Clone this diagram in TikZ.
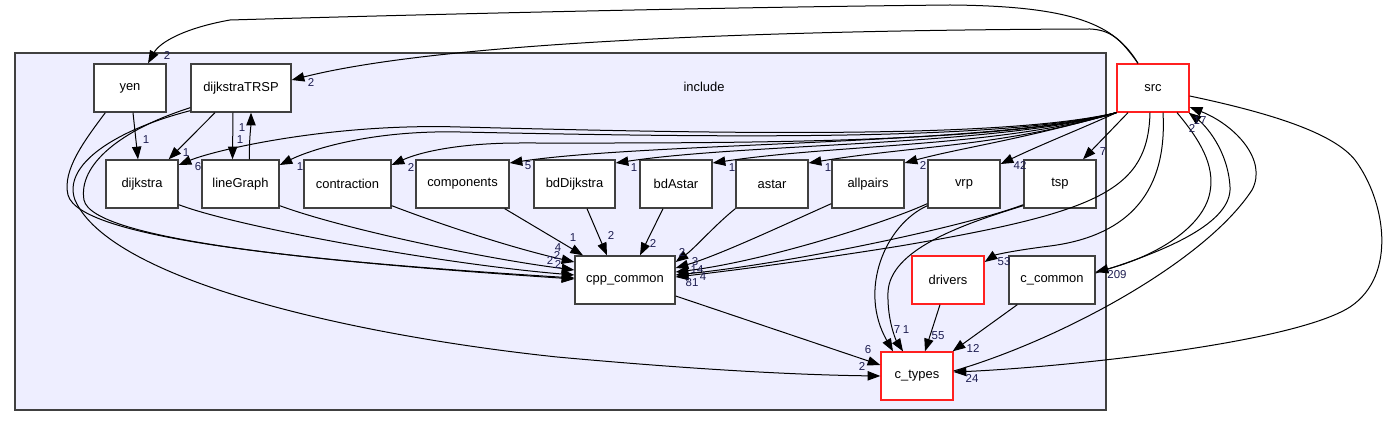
\documentclass[tikz,border=0pt]{standalone}
\usepackage{fontspec}
\setmainfont{Liberation Sans}
\usetikzlibrary{arrows.meta,calc}
\definecolor{clfill}{HTML}{EEEEFF}
\definecolor{boxgray}{HTML}{404040}
\definecolor{boxred}{HTML}{FF2020}
\definecolor{lblcol}{HTML}{1C1C50}
\newcommand{\nodefnt}{\fontsize{9.7}{11}\selectfont}
\newcommand{\lblfnt}{\fontsize{8.6}{10}\selectfont}
\tikzset{
  dirbox/.style={draw=boxgray, fill=white, line width=1pt, minimum height=36pt, inner sep=0pt, font=\nodefnt},
  redbox/.style={dirbox, draw=boxred},
  clusterbox/.style={draw=boxgray, fill=clfill, line width=0.9pt, inner sep=0pt},
  dep/.style={draw=black, line width=0.75pt, -{Triangle[length=9.5pt,width=7pt]}},
  lbl/.style={font=\lblfnt, text=lblcol, inner sep=0pt},
}
\begin{document}
\begin{tikzpicture}[x=0.75pt,y=-0.75pt]
\useasboundingbox (0,0) rectangle (1390,427);
% cluster
\node[clusterbox, minimum width=818.25pt, minimum height=267.75pt] (incl) at (560.5,231.5) {};
\node[font=\nodefnt] (incltxt) at (704,87) {include};
% nodes
\node[dirbox, minimum width=54pt] (yen) at (130,88) {yen};
\node[dirbox, minimum width=75pt] (dTRSP) at (241,88) {dijkstraTRSP};
\node[dirbox, minimum width=54pt] (dijkstra) at (142,184) {dijkstra};
\node[dirbox, minimum width=57.75pt] (lineGraph) at (240.5,184) {lineGraph};
\node[dirbox, minimum width=65.25pt] (contraction) at (347.5,184) {contraction};
\node[dirbox, minimum width=69.75pt] (components) at (462.5,184) {components};
\node[dirbox, minimum width=60.75pt] (bdDijkstra) at (574.5,184) {bdDijkstra};
\node[dirbox, minimum width=54pt] (bdAstar) at (676,184) {bdAstar};
\node[dirbox, minimum width=54pt] (astar) at (772,184) {astar};
\node[dirbox, minimum width=54pt] (allpairs) at (868,184) {allpairs};
\node[dirbox, minimum width=54pt] (vrp) at (964,184) {vrp};
\node[dirbox, minimum width=54pt] (tsp) at (1060,184) {tsp};
\node[redbox, minimum width=54pt] (src) at (1153,88) {src};
\node[dirbox, minimum width=75pt] (cpp) at (625,280) {cpp\_common};
\node[redbox, minimum width=54pt] (drivers) at (948,280) {drivers};
\node[dirbox, minimum width=64.5pt] (ccommon) at (1052,280) {c\_common};
\node[redbox, minimum width=54pt] (ctypes) at (917,376) {c\_types};

% edges from src, top
\draw[dep] ($(src.north)+(-15,0)$) .. controls (1115,25) and (1075,6) .. (950,5) .. controls (650,8) and (300,18) .. (230,20) .. controls (185,28) and (160,42) .. ($(yen.north)+(18,0)$) node[lbl] (l1) at (167,56) {2};
\draw[dep] ($(src.north)+(-15,0)$) .. controls (1120,38) and (1110,30) .. (1090,29) .. controls (800,30) and (450,40) .. ($(dTRSP.east)+(0,-8)$) node[lbl] (l2) at (311,83) {2};
% src fan
\draw[dep] (src.south west) .. controls (1000,140) and (700,133) .. (460,127) .. controls (330,123) and (215,150) .. ($(dijkstra.east)+(0,-19)$) node[lbl] (l3) at (198,167) {6};
\draw[dep] (src.south west) .. controls (1000,142) and (700,137) .. (460,132) .. controls (370,130) and (310,150) .. ($(lineGraph.east)+(0,-19)$) node[lbl] (l4) at (300,167) {1};
\draw[dep] (src.south west) .. controls (1000,145) and (700,143) .. (520,143) .. controls (460,143) and (420,152) .. ($(contraction.east)+(0,-19)$) node[lbl] (l5) at (411,168) {2};
\draw[dep] (src.south west) .. controls (1000,145) and (650,142) .. ($(components.east)+(0,-21)$) node[lbl] (l6) at (528,166) {5};
\draw[dep] (src.south west) .. controls (1000,146) and (750,143) .. ($(bdDijkstra.east)+(0,-21)$) node[lbl] (l7) at (634,168) {1};
\draw[dep] (src.south west) .. controls (1000,147) and (840,144) .. ($(bdAstar.east)+(0,-21)$) node[lbl] (l8) at (732,168) {1};
\draw[dep] (src.south west) .. controls (1000,147) and (920,145) .. ($(astar.east)+(0,-21)$) node[lbl] (l9) at (828,168) {1};
\draw[dep] (src.south west) .. controls (1020,140) and (960,148) .. ($(allpairs.east)+(0,-21)$) node[lbl] (l10) at (923,166) {2};
\draw[dep] (src.south west) .. controls (1090,125) and (1040,145) .. ($(vrp.east)+(0,-20)$) node[lbl] (l11) at (1020,166) {42};
\draw[dep] ($(src.south)+(-25,0)$) -- ($(tsp.north)+(23,0)$) node[lbl] (l12) at (1103,152) {7};
% src down
\draw[dep] ($(src.south)+(-3,0)$) .. controls (1148,190) and (1100,212) .. (900,246) .. controls (800,262) and (720,272) .. ($(cpp.east)+(0,-3)$) node[lbl] (l13) at (692,283) {81};
\draw[dep] ($(src.south)+(10,0)$) .. controls (1168,200) and (1120,237) .. (1050,246) .. controls (1010,251) and (995,255) .. ($(drivers.east)+(0,-18)$) node[lbl] (l14) at (1004,262) {53};
\draw[dep] ($(src.south)+(24,0)$) .. controls (1200,140) and (1215,165) .. (1210,192) .. controls (1203,230) and (1150,258) .. ($(ccommon.east)+(0,-8)$) node[lbl] (l15) at (1117,275) {209};
\draw[dep] ($(ccommon.east)+(0,-7)$) .. controls (1170,250) and (1232,222) .. (1230,187) .. controls (1228,150) and (1205,125) .. ($(src.south east)+(-1,0)$) node[lbl] (l16) at (1192,129) {2};
\draw[dep] ($(ctypes.east)+(0,-5)$) .. controls (1060,340) and (1205,262) .. (1252,190) .. controls (1268,160) and (1235,125) .. ($(src.east)+(0,19)$) node[lbl] (l17) at (1200,121) {17};
\draw[dep] ($(src.east)+(0,8)$) .. controls (1280,115) and (1335,135) .. (1355,160) .. controls (1385,200) and (1398,275) .. (1350,307) .. controls (1290,345) and (1050,368) .. ($(ctypes.east)+(0,-4)$) node[lbl] (l18) at (972,378) {24};
% vrp, tsp, allpairs, astar
\draw[dep] ($(vrp.south west)+(0,-5)$) .. controls (880,225) and (760,262) .. ($(cpp.east)+(0,-8)$) node[lbl] (l19) at (697,270) {14};
\draw[dep] ($(vrp.south west)+(0,-3)$) .. controls (885,225) and (858,290) .. ($(ctypes.north)+(-24,0)$) node[lbl] (l20) at (897,330) {7};
\draw[dep] ($(tsp.south west)+(0,-4)$) .. controls (970,225) and (800,262) .. ($(cpp.east)+(0,-5)$) node[lbl] (l21) at (703,277) {4};
\draw[dep] ($(tsp.south west)+(0,-3)$) .. controls (960,225) and (890,250) .. (888,292) .. controls (887,322) and (897,342) .. ($(ctypes.north)+(-14,0)$) node[lbl] (l22) at (906,330) {1};
\draw[dep] ($(allpairs.south west)+(0,-5)$) .. controls (790,222) and (720,255) .. ($(cpp.east)+(0,-12)$) node[lbl] (l23) at (695,262) {3};
\draw[dep] (astar.south west) .. controls (715,225) and (695,248) .. ($(cpp.east)+(0,-18)$) node[lbl] (l24) at (682,252) {2};
\draw[dep] ($(bdAstar.south)+(-13,0)$) -- ($(cpp.north)+(15,0)$) node[lbl] (l25) at (653,243) {2};
\draw[dep] ($(bdDijkstra.south)+(12.5,0)$) -- ($(cpp.north)+(-18,0)$) node[lbl] (l26) at (611,236) {2};
\draw[dep] ($(components.south east)+(-5,0)$) -- ($(cpp.north)+(-42,0)$) node[lbl] (l27) at (573,238) {1};
% left into cpp_common
\draw[dep] ($(contraction.south east)+(0,-3)$) .. controls (450,228) and (520,250) .. ($(cpp.west)+(0,-18)$) node[lbl] (l28) at (558,248) {4};
\draw[dep] ($(lineGraph.south east)+(0,-3)$) .. controls (340,228) and (480,258) .. ($(cpp.west)+(0,-10)$) node[lbl] (l29) at (557,256) {2};
\draw[dep] ($(dijkstra.south east)+(0,-4)$) .. controls (240,228) and (450,265) .. ($(cpp.west)+(0,-5)$) node[lbl] (l30) at (550,261) {2};
\draw[dep] ($(yen.south west)+(12,0)$) .. controls (85,140) and (62,170) .. (68,195) .. controls (80,240) and (320,262) .. ($(cpp.west)+(0,-2)$) node[lbl] (l31) at (558,265) {2};
\draw[dep] ($(dTRSP.south west)+(0,-5)$) .. controls (120,130) and (78,165) .. (84,200) .. controls (92,240) and (320,262) .. ($(cpp.west)+(0,-1)$);
\draw[dep] ($(dTRSP.south west)+(0,-2)$) .. controls (115,130) and (62,165) .. (75,200) .. controls (110,280) and (350,335) .. (557,357) .. controls (700,370) and (800,375) .. (ctypes.west) node[lbl] (l33) at (862,366) {2};
% into c_types
\draw[dep] ($(cpp.east)+(0,16)$) -- ($(ctypes.west)+(0,-11)$) node[lbl] (l34) at (868,350) {6};
\draw[dep] ($(drivers.south)+(-8,0)$) -- ($(ctypes.north)+(8,0)$) node[lbl] (l35) at (938,336) {55};
\draw[dep] ($(ccommon.south west)+(9,0)$) -- ($(ctypes.north east)+(-1,0)$) node[lbl] (l36) at (973,348) {12};
% top-left small edges
\draw[dep] ($(yen.south)+(3,0)$) -- ($(dijkstra.north)+(-4,0)$) node[lbl] (l37) at (146,140) {1};
\draw[dep] ($(dTRSP.south)+(-26,0)$) -- ($(dijkstra.north east)+(-10,0)$) node[lbl] (l38) at (186,153) {1};
\draw[dep] ($(dTRSP.south)+(-8,0)$) -- ($(lineGraph.north)+(-8,0)$) node[lbl] (l39) at (240,140) {1};
\draw[dep] ($(lineGraph.north)+(9,0)$) .. controls (249,140) and (251,125) .. ($(dTRSP.south)+(10,0)$) node[lbl] (l40) at (242,128) {1};
\end{tikzpicture}
\end{document}
